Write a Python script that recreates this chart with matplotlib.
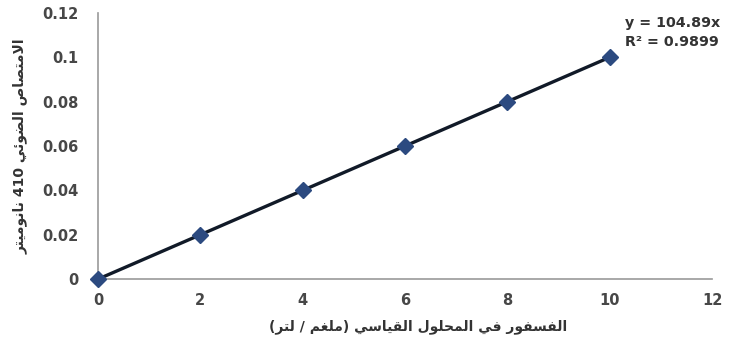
import numpy as np
import matplotlib.pyplot as plt

# standard solution data
conc = [0, 2, 4, 6, 8, 10]
absorb = [0, 0.02, 0.04, 0.06, 0.08, 0.1]
x_ticks = [0, 2, 4, 6, 8, 10, 12]
y_ticks = [0, 0.02, 0.04, 0.06, 0.08, 0.1, 0.12]
y_tick_labels = ['0', '0.02', '0.04', '0.06', '0.08', '0.1', '0.12']
eq_text = 'y = 104.89x'
r2_text = 'R² = 0.9899'
x_label = 'الفسفور في المحلول القياسي (ملغم / لتر)'
y_label = 'الامتصاص الضوئي 410 نانوميتر'

# minimal arabic shaping (matplotlib has no shaper): iso, fin, ini, med
FORMS = {
    'ا': (0xFE8D, 0xFE8E, None, None),
    'ر': (0xFEAD, 0xFEAE, None, None),
    'و': (0xFEED, 0xFEEE, None, None),
    'ت': (0xFE95, 0xFE96, 0xFE97, 0xFE98),
    'ح': (0xFEA1, 0xFEA2, 0xFEA3, 0xFEA4),
    'س': (0xFEB1, 0xFEB2, 0xFEB3, 0xFEB4),
    'ص': (0xFEB9, 0xFEBA, 0xFEBB, 0xFEBC),
    'ض': (0xFEBD, 0xFEBE, 0xFEBF, 0xFEC0),
    'غ': (0xFECD, 0xFECE, 0xFECF, 0xFED0),
    'ف': (0xFED1, 0xFED2, 0xFED3, 0xFED4),
    'ق': (0xFED5, 0xFED6, 0xFED7, 0xFED8),
    'ل': (0xFEDD, 0xFEDE, 0xFEDF, 0xFEE0),
    'م': (0xFEE1, 0xFEE2, 0xFEE3, 0xFEE4),
    'ن': (0xFEE5, 0xFEE6, 0xFEE7, 0xFEE8),
    'ي': (0xFEF1, 0xFEF2, 0xFEF3, 0xFEF4),
    'ئ': (0xFE89, 0xFE8A, 0xFE8B, 0xFE8C),
}


def dual(c):
    return c in FORMS and FORMS[c][2] is not None


def shape(s):
    out = []
    i = 0
    prev_joins = False
    while i < len(s):
        c = s[i]
        if c not in FORMS:
            out.append(c)
            prev_joins = False
            i += 1
            continue
        if c == 'ل' and i + 1 < len(s) and s[i + 1] == 'ا':
            out.append(chr(0xFEFC if prev_joins else 0xFEFB))
            prev_joins = False
            i += 2
            continue
        nxt = s[i + 1] if i + 1 < len(s) else ''
        join_next = dual(c) and nxt in FORMS
        f = FORMS[c]
        if prev_joins and join_next:
            ch = f[3]
        elif prev_joins:
            ch = f[1]
        elif join_next:
            ch = f[2]
        else:
            ch = f[0]
        out.append(chr(ch))
        prev_joins = dual(c)
        i += 1
    vis = ''.join(out)[::-1]
    vis = vis.translate(str.maketrans('()', ')('))
    # put digit runs back in reading order
    res, run = '', ''
    for ch in vis:
        if ch.isdigit():
            run += ch
        else:
            res += run[::-1] + ch
            run = ''
    return res + run[::-1]


plt.rcParams['font.family'] = ['DejaVu Sans']

fig = plt.figure(figsize=(7.29, 3.4), dpi=100)
ax = fig.add_axes([0.1344, 0.179, 0.8423, 0.783])

ax.plot(conc, absorb, color='#111a28', lw=2.4, zorder=2)
ax.plot(conc, absorb, ls='none', marker='D', ms=8, color='#2c4a80',
        mec='#2c4a80', zorder=3, clip_on=False)

ax.set_xlim(0, 12)
ax.set_ylim(0, 0.12)
ax.set_xticks(x_ticks)
ax.set_yticks(y_ticks)
ax.set_yticklabels(y_tick_labels)
ax.tick_params(length=0, labelsize=10.5, labelcolor='#474747')
ax.tick_params(axis='y', pad=14)
ax.tick_params(axis='x', pad=10)
for lab in ax.get_xticklabels() + ax.get_yticklabels():
    lab.set_fontweight('bold')

for side in ['top', 'right']:
    ax.spines[side].set_visible(False)
for side in ['left', 'bottom']:
    ax.spines[side].set_color('#999999')
    ax.spines[side].set_linewidth(1.2)

ax.text(10.3, 0.1153, eq_text, fontsize=10.3, fontweight='bold',
        color='#333333', va='center', clip_on=False)
ax.text(10.3, 0.1067, r2_text, fontsize=10.3, fontweight='bold',
        color='#333333', va='center', clip_on=False)

fig.text(0.573, 0.04, shape(x_label), ha='center', va='center',
         fontsize=10, fontweight='bold', color='#333333')
fig.text(0.028, 0.57, shape(y_label), ha='center', va='center',
         rotation=90, fontsize=10, fontweight='bold', color='#333333')

fig.savefig('out.png', dpi=100)
